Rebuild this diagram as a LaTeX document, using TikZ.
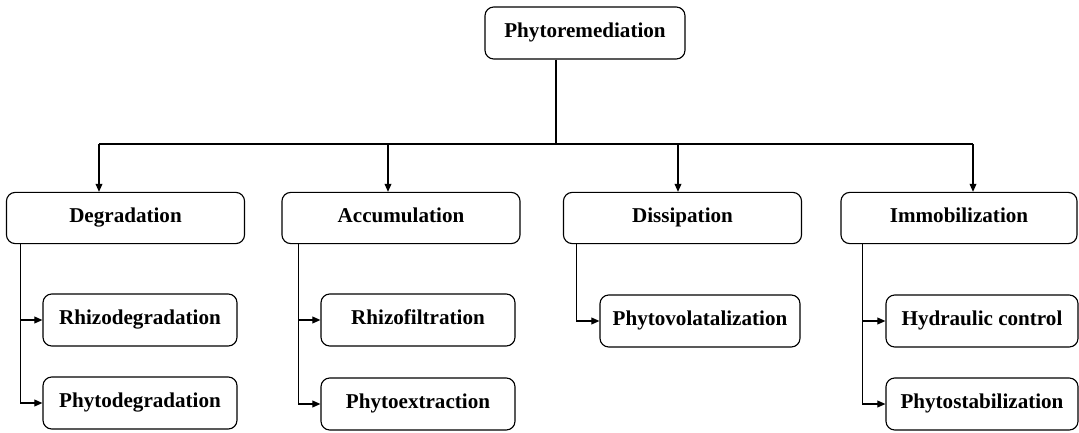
\documentclass[tikz,border=0pt]{standalone}
\usepackage{fontspec}
\setmainfont{Liberation Serif}
\usetikzlibrary{arrows.meta,positioning}
\tikzset{
  box/.style={draw, rounded corners=2.2mm, line width=0.8pt, inner sep=0pt,
    text height=0.66em, text depth=0pt,
    font=\fontsize{15}{18}\selectfont\bfseries, align=center},
  topbox/.style={box, minimum width=5cm, minimum height=1.3cm},
  catbox/.style={box, minimum width=5.95cm, minimum height=1.28cm},
  subbox/.style={box, minimum width=4.85cm, minimum height=1.3cm},
  link/.style={line width=0.8pt}
}
\begin{document}
\begin{tikzpicture}[x=0.025cm, y=-0.025cm, >={Triangle[length=2mm,width=1.7mm]}]
  \useasboundingbox (0,0) rectangle (1079,433);
  % root
  \node[topbox] (root) at (585,33) {Phytoremediation};
  % four groups
  \node[catbox] (deg) at (125.5,218) {Degradation};
  \node[catbox] (acc) at (401,218) {Accumulation};
  \node[catbox] (dis) at (682.5,218) {Dissipation};
  \node[catbox, minimum width=5.9cm] (imm) at (959,218) {Immobilization};
  % processes
  \node[subbox] (rhdeg) at (140,320) {Rhizodegradation};
  \node[subbox] (phdeg) at (140,403) {Phytodegradation};
  \node[subbox] (rhfil) at (418,320) {Rhizofiltration};
  \node[subbox] (phext) at (418,404) {Phytoextraction};
  \node[subbox, minimum width=5cm] (phvol) at (700,321) {Phytovolatalization};
  \node[subbox, minimum width=4.8cm] (hydr) at (982,321) {Hydraulic control};
  \node[subbox, minimum width=4.8cm] (phstab) at (982,404) {Phytostabilization};
  % trunk and bus
  \coordinate (hub) at (556,144);
  \coordinate (d1) at (99,144);
  \coordinate (d2) at (388,144);
  \coordinate (d3) at (678,144);
  \coordinate (d4) at (973,144);
  \draw[link] (root.south -| hub) -- (hub);
  \draw[link] (d1) -- (d4);
  \foreach \c/\n in {d1/deg, d2/acc, d3/dis, d4/imm}
    \draw[link, ->] (\c) -- (\c |- \n.north);
  % side branches
  \draw[link, ->] ([xshift=0.375cm]deg.south west) |- (rhdeg.west);
  \draw[link, ->] ([xshift=0.375cm]deg.south west) |- (phdeg.west);
  \draw[link, ->] ([xshift=0.425cm]acc.south west) |- (rhfil.west);
  \draw[link, ->] ([xshift=0.425cm]acc.south west) |- (phext.west);
  \draw[link, ->] ([xshift=0.35cm]dis.south west) |- (phvol.west);
  \draw[link, ->] ([xshift=0.55cm]imm.south west) |- (hydr.west);
  \draw[link, ->] ([xshift=0.55cm]imm.south west) |- (phstab.west);
\end{tikzpicture}
\end{document}
